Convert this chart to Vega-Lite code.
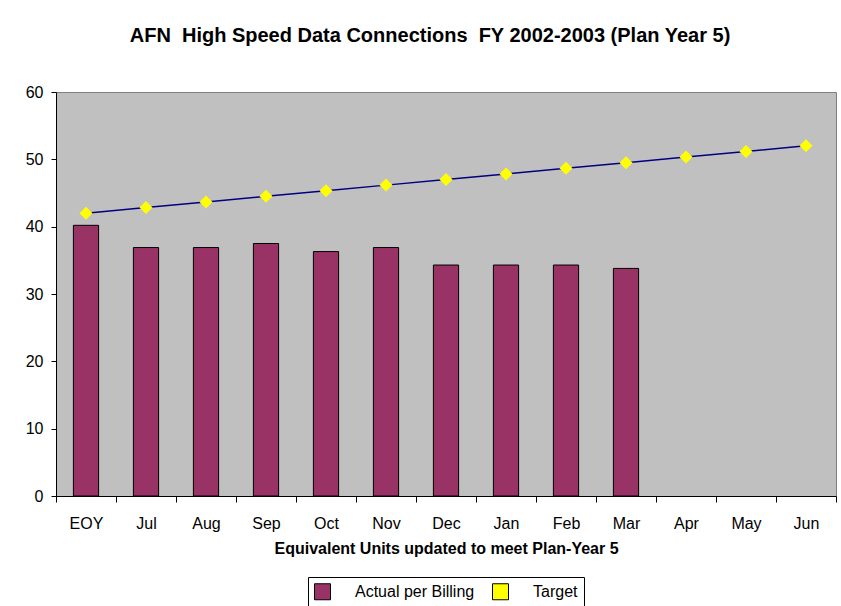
{
  "$schema": "https://vega.github.io/schema/vega-lite/v6.json",
  "width": 780,
  "height": 404,
  "autosize": {"type": "none"},
  "padding": {"left": 56, "top": 92, "right": 5, "bottom": 110},
  "background": "white",
  "config": {
    "font": "Liberation Sans",
    "view": {"fill": "#C0C0C0", "stroke": "#808080", "strokeWidth": 1},
    "axis": {"grid": false, "domainColor": "black", "tickColor": "black", "labelColor": "black", "titleColor": "black", "labelFont": "Liberation Sans", "titleFont": "Liberation Sans"}
  },
  "title": {
    "text": "AFN\u00a0 High Speed Data Connections\u00a0 FY 2002-2003 (Plan Year 5)",
    "fontSize": 20,
    "fontWeight": "bold",
    "font": "Liberation Sans",
    "color": "black",
    "offset": 38,
    "dx": -16,
    "anchor": "middle"
  },
  "data": {
    "values": [
      {"month": "EOY", "actual": 40.2, "target": 42},
      {"month": "Jul", "actual": 36.9, "target": 42.83},
      {"month": "Aug", "actual": 36.9, "target": 43.67},
      {"month": "Sep", "actual": 37.5, "target": 44.5},
      {"month": "Oct", "actual": 36.3, "target": 45.33},
      {"month": "Nov", "actual": 36.9, "target": 46.17},
      {"month": "Dec", "actual": 34.3, "target": 47},
      {"month": "Jan", "actual": 34.3, "target": 47.83},
      {"month": "Feb", "actual": 34.3, "target": 48.67},
      {"month": "Mar", "actual": 33.8, "target": 49.5},
      {"month": "Apr", "actual": null, "target": 50.33},
      {"month": "May", "actual": null, "target": 51.17},
      {"month": "Jun", "actual": null, "target": 52}
    ]
  },
  "encoding": {
    "x": {
      "field": "month",
      "type": "ordinal",
      "sort": null,
      "scale": {"paddingInner": 0, "paddingOuter": 0},
      "axis": {
        "title": "Equivalent Units updated to meet Plan-Year 5",
        "titleFontSize": 16,
        "titleFontWeight": "bold",
        "titlePadding": 9,
        "labelFontSize": 16,
        "labelPadding": 13,
        "labelAngle": 0,
        "tickSize": 6,
        "tickBand": "extent"
      }
    }
  },
  "layer": [
    {
      "mark": {"type": "bar", "width": {"band": 0.42}, "stroke": "black", "strokeWidth": 1, "opacity": 1},
      "encoding": {
        "y": {
          "field": "actual",
          "type": "quantitative",
          "scale": {"domain": [0, 60], "nice": false},
          "axis": {"title": null, "values": [0, 10, 20, 30, 40, 50, 60], "labelFontSize": 16, "tickSize": 5, "labelPadding": 8}
        },
        "color": {
          "datum": "Actual per Billing",
          "type": "nominal",
          "scale": {"domain": ["Actual per Billing", "Target"], "range": ["#993366", "#FFFF00"]},
          "legend": {
            "title": null,
            "orient": "none",
            "legendX": 252,
            "legendY": 485,
            "direction": "horizontal",
            "padding": 6,
            "strokeColor": "black",
            "fillColor": "white",
            "labelFontSize": 16,
            "labelColor": "black",
            "labelFont": "Liberation Sans",
            "symbolSize": 256,
            "labelOffset": 24,
            "columnPadding": 15,
            "symbolOpacity": 1,
            "symbolStrokeWidth": 1,
            "encode": {
              "symbols": {
                "shape": {"value": {"expr": "datum.value === 'Target' ? 'M-1,0H0.5M2,0H3.5M1.25,-0.75L2,0L1.25,0.75L0.5,0Z' : 'M-1,-0.5625H3.625V0.5625H-1Z'"}},
                "stroke": {"value": {"expr": "datum.value === 'Target' ? '#000080' : '#000000'"}},
                "strokeWidth": {"value": 1.2},
                "opacity": {"value": 1},
                "fillOpacity": {"value": 1}
              }
            }
          }
        }
      }
    },
    {
      "mark": {"type": "line", "color": "#000080", "strokeWidth": 1.5},
      "encoding": {
        "y": {"field": "target", "type": "quantitative"}
      }
    },
    {
      "mark": {"type": "point", "shape": "diamond", "filled": true, "size": 169, "opacity": 1, "strokeWidth": 0},
      "encoding": {
        "y": {"field": "target", "type": "quantitative"},
        "color": {"datum": "Target", "type": "nominal"}
      }
    }
  ]
}
